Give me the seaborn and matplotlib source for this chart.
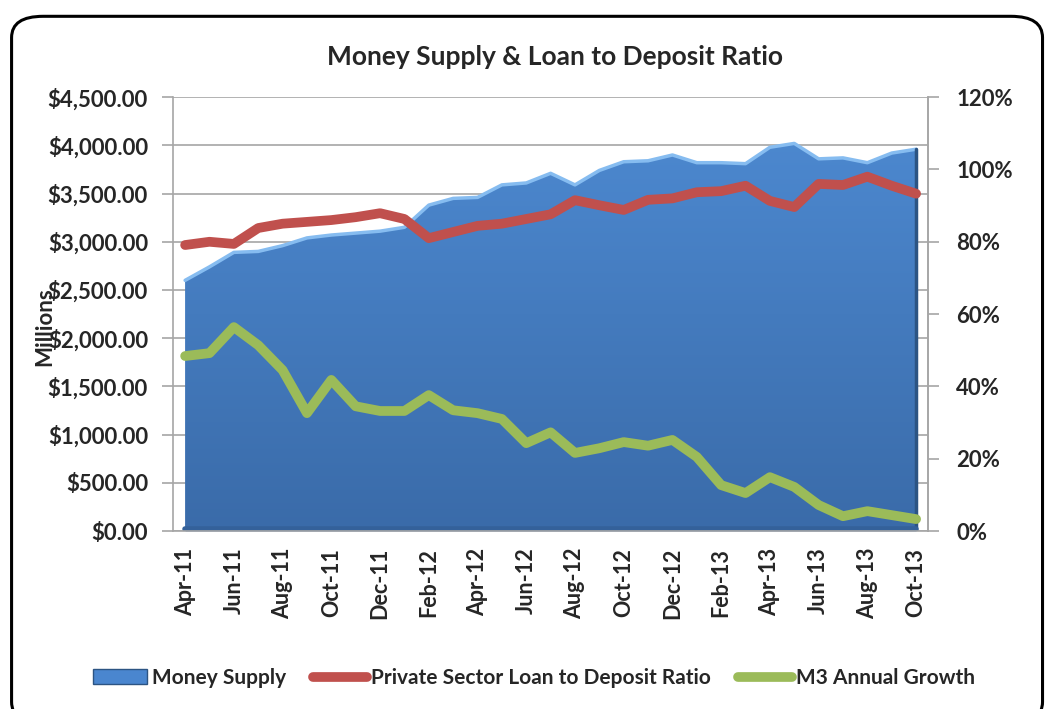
import numpy as np
import pandas as pd
import matplotlib
matplotlib.use("Agg")
import matplotlib.pyplot as plt
import seaborn as sns
from matplotlib.colors import LinearSegmentedColormap
from matplotlib.patches import Patch, FancyBboxPatch
from matplotlib.lines import Line2D
from matplotlib.ticker import FuncFormatter, FixedLocator

# --- data ---
months = ["Apr-11", "May-11", "Jun-11", "Jul-11", "Aug-11", "Sep-11", "Oct-11", "Nov-11",
          "Dec-11", "Jan-12", "Feb-12", "Mar-12", "Apr-12", "May-12", "Jun-12", "Jul-12",
          "Aug-12", "Sep-12", "Oct-12", "Nov-12", "Dec-12", "Jan-13", "Feb-13", "Mar-13",
          "Apr-13", "May-13", "Jun-13", "Jul-13", "Aug-13", "Sep-13", "Oct-13"]
money_supply = [2600, 2740, 2890, 2900, 2960, 3040, 3070, 3090, 3110, 3150, 3380, 3450,
                3460, 3590, 3610, 3710, 3590, 3740, 3830, 3840, 3900, 3820, 3820, 3810,
                3980, 4020, 3860, 3870, 3820, 3920, 3960]
loan_deposit = [79.1, 80.0, 79.4, 83.8, 85.0, 85.5, 86.0, 86.8, 87.9, 86.3, 81.0, 82.7,
                84.4, 85.0, 86.3, 87.6, 91.5, 90.1, 88.8, 91.6, 92.0, 93.7, 94.0, 95.5,
                91.3, 89.6, 96.0, 95.7, 98.0, 95.5, 93.3]
m3_growth = [48.4, 49.2, 56.4, 51.4, 44.5, 32.6, 41.8, 34.5, 33.2, 33.2, 37.6, 33.4,
             32.6, 31.0, 24.3, 27.3, 21.6, 22.9, 24.6, 23.6, 25.2, 20.5, 12.7, 10.5,
             14.9, 12.2, 7.2, 4.1, 5.5, 4.4, 3.3]

df = pd.DataFrame({"idx": np.arange(len(months)), "month": months,
                   "money": money_supply, "ldr": loan_deposit, "m3": m3_growth})

sns.set_style("white")
plt.rcParams["font.family"] = ["Lato", "DejaVu Sans"]

RED = "#C0504D"
GREEN = "#9BBB59"
GRID = "#A6A6A6"

fig = plt.figure(figsize=(10.52, 7.09), dpi=100)
ax = fig.add_axes([0.1644, 0.251, 0.718, 0.612])

# rounded chart border
fig.patches.append(FancyBboxPatch((0.011, -0.02), 0.98, 0.997,
                                  boxstyle="round,pad=0,rounding_size=0.03",
                                  transform=fig.transFigure, fill=False,
                                  edgecolor="black", linewidth=2.2, zorder=0))

# money supply area with vertical gradient
poly = ax.fill_between(df["idx"], 0, df["money"], color="#4A86CF", linewidth=0, zorder=2)
cmap = LinearSegmentedColormap.from_list("blu", ["#3A6BA9", "#4E8BD3"])
grad = np.linspace(0, 1, 256).reshape(-1, 1)
img = ax.imshow(grad, extent=[0, len(months) - 1, 0, 4500], origin="lower",
                aspect="auto", cmap=cmap, zorder=2.1)
img.set_clip_path(poly.get_paths()[0], transform=ax.transData)
ax.plot(df["idx"], df["money"], color="#86BCF0", lw=2.5, zorder=2.2)
ax.plot([len(months) - 1] * 2, [0, money_supply[-1]], color="#2C5483", lw=2.5, zorder=2.2)
ax.plot([0, len(months) - 1], [20, 20], color="#34619A", lw=4, zorder=2.2)

ax.set_xlim(-0.5, len(months) - 0.5)
ax.set_ylim(0, 4500)
ax.set_yticks(np.arange(0, 4501, 500))
ax.yaxis.set_major_formatter(FuncFormatter(lambda v, p: f"${v:,.2f}"))
ax.grid(axis="y", color=GRID, lw=1.2, zorder=0)
ax.grid(axis="x", visible=False)
ax.set_axisbelow(True)

ax.set_xticks(df["idx"][::2])
ax.set_xticklabels(df["month"][::2], rotation=90, fontsize=15.5, fontweight="bold")
ax.xaxis.set_minor_locator(FixedLocator(np.arange(-0.5, len(months), 2)))
ax.tick_params(axis="x", which="major", length=0, pad=12)
ax.tick_params(axis="x", which="minor", length=6, color=GRID, width=1.2)
ax.tick_params(axis="y", length=8, color=GRID, width=1.2, labelsize=16, pad=10)
for t in ax.get_yticklabels():
    t.set_fontweight("bold")
ax.set_ylabel("")
ax.set_xlabel("")
# axis unit label sits over the tick labels, as in the source chart
fig.text(45 / 1052, 1 - 327 / 709, "Millions", rotation=90, ha="center", va="center",
         fontsize=16, fontweight="bold")

ax.spines["top"].set_visible(False)
for s in ["left", "bottom", "right"]:
    ax.spines[s].set_color(GRID)
    ax.spines[s].set_linewidth(1.2)

# percentage lines on the right axis
ax2 = ax.twinx()
sns.lineplot(data=df, x="idx", y="ldr", ax=ax2, color=RED, lw=7,
             solid_capstyle="round", zorder=3)
sns.lineplot(data=df, x="idx", y="m3", ax=ax2, color=GREEN, lw=7,
             solid_capstyle="round", zorder=3)
ax2.set_ylim(0, 120)
ax2.set_yticks(np.arange(0, 121, 20))
ax2.yaxis.set_major_formatter(FuncFormatter(lambda v, p: f"{v:.0f}%"))
ax2.tick_params(axis="y", length=8, color=GRID, width=1.2, labelsize=16, pad=12)
for t in ax2.get_yticklabels():
    t.set_fontweight("bold")
ax2.set_ylabel("")
ax2.set_xlabel("")
ax2.set_xlim(-0.5, len(months) - 0.5)
for s in ["top", "left", "bottom"]:
    ax2.spines[s].set_visible(False)
ax2.spines["right"].set_color(GRID)
ax2.spines["right"].set_linewidth(1.2)

fig.text(0.528, 0.92, "Money Supply & Loan to Deposit Ratio", ha="center",
         va="center", fontsize=19, fontweight="bold")

handles = [Patch(facecolor="#4A86CF", edgecolor="#2C5483"),
           Line2D([], [], color=RED, lw=7, solid_capstyle="round"),
           Line2D([], [], color=GREEN, lw=7, solid_capstyle="round")]
labels = ["Money Supply", "Private Sector Loan to Deposit Ratio", "M3 Annual Growth"]
leg = fig.legend(handles, labels, loc="center", bbox_to_anchor=(0.508, 0.044), ncol=3,
                 frameon=False, fontsize=15, handlelength=2.6, handletextpad=0.2,
                 columnspacing=1.3)
for t in leg.get_texts():
    t.set_fontweight("bold")

fig.savefig("out.png", dpi=100)
